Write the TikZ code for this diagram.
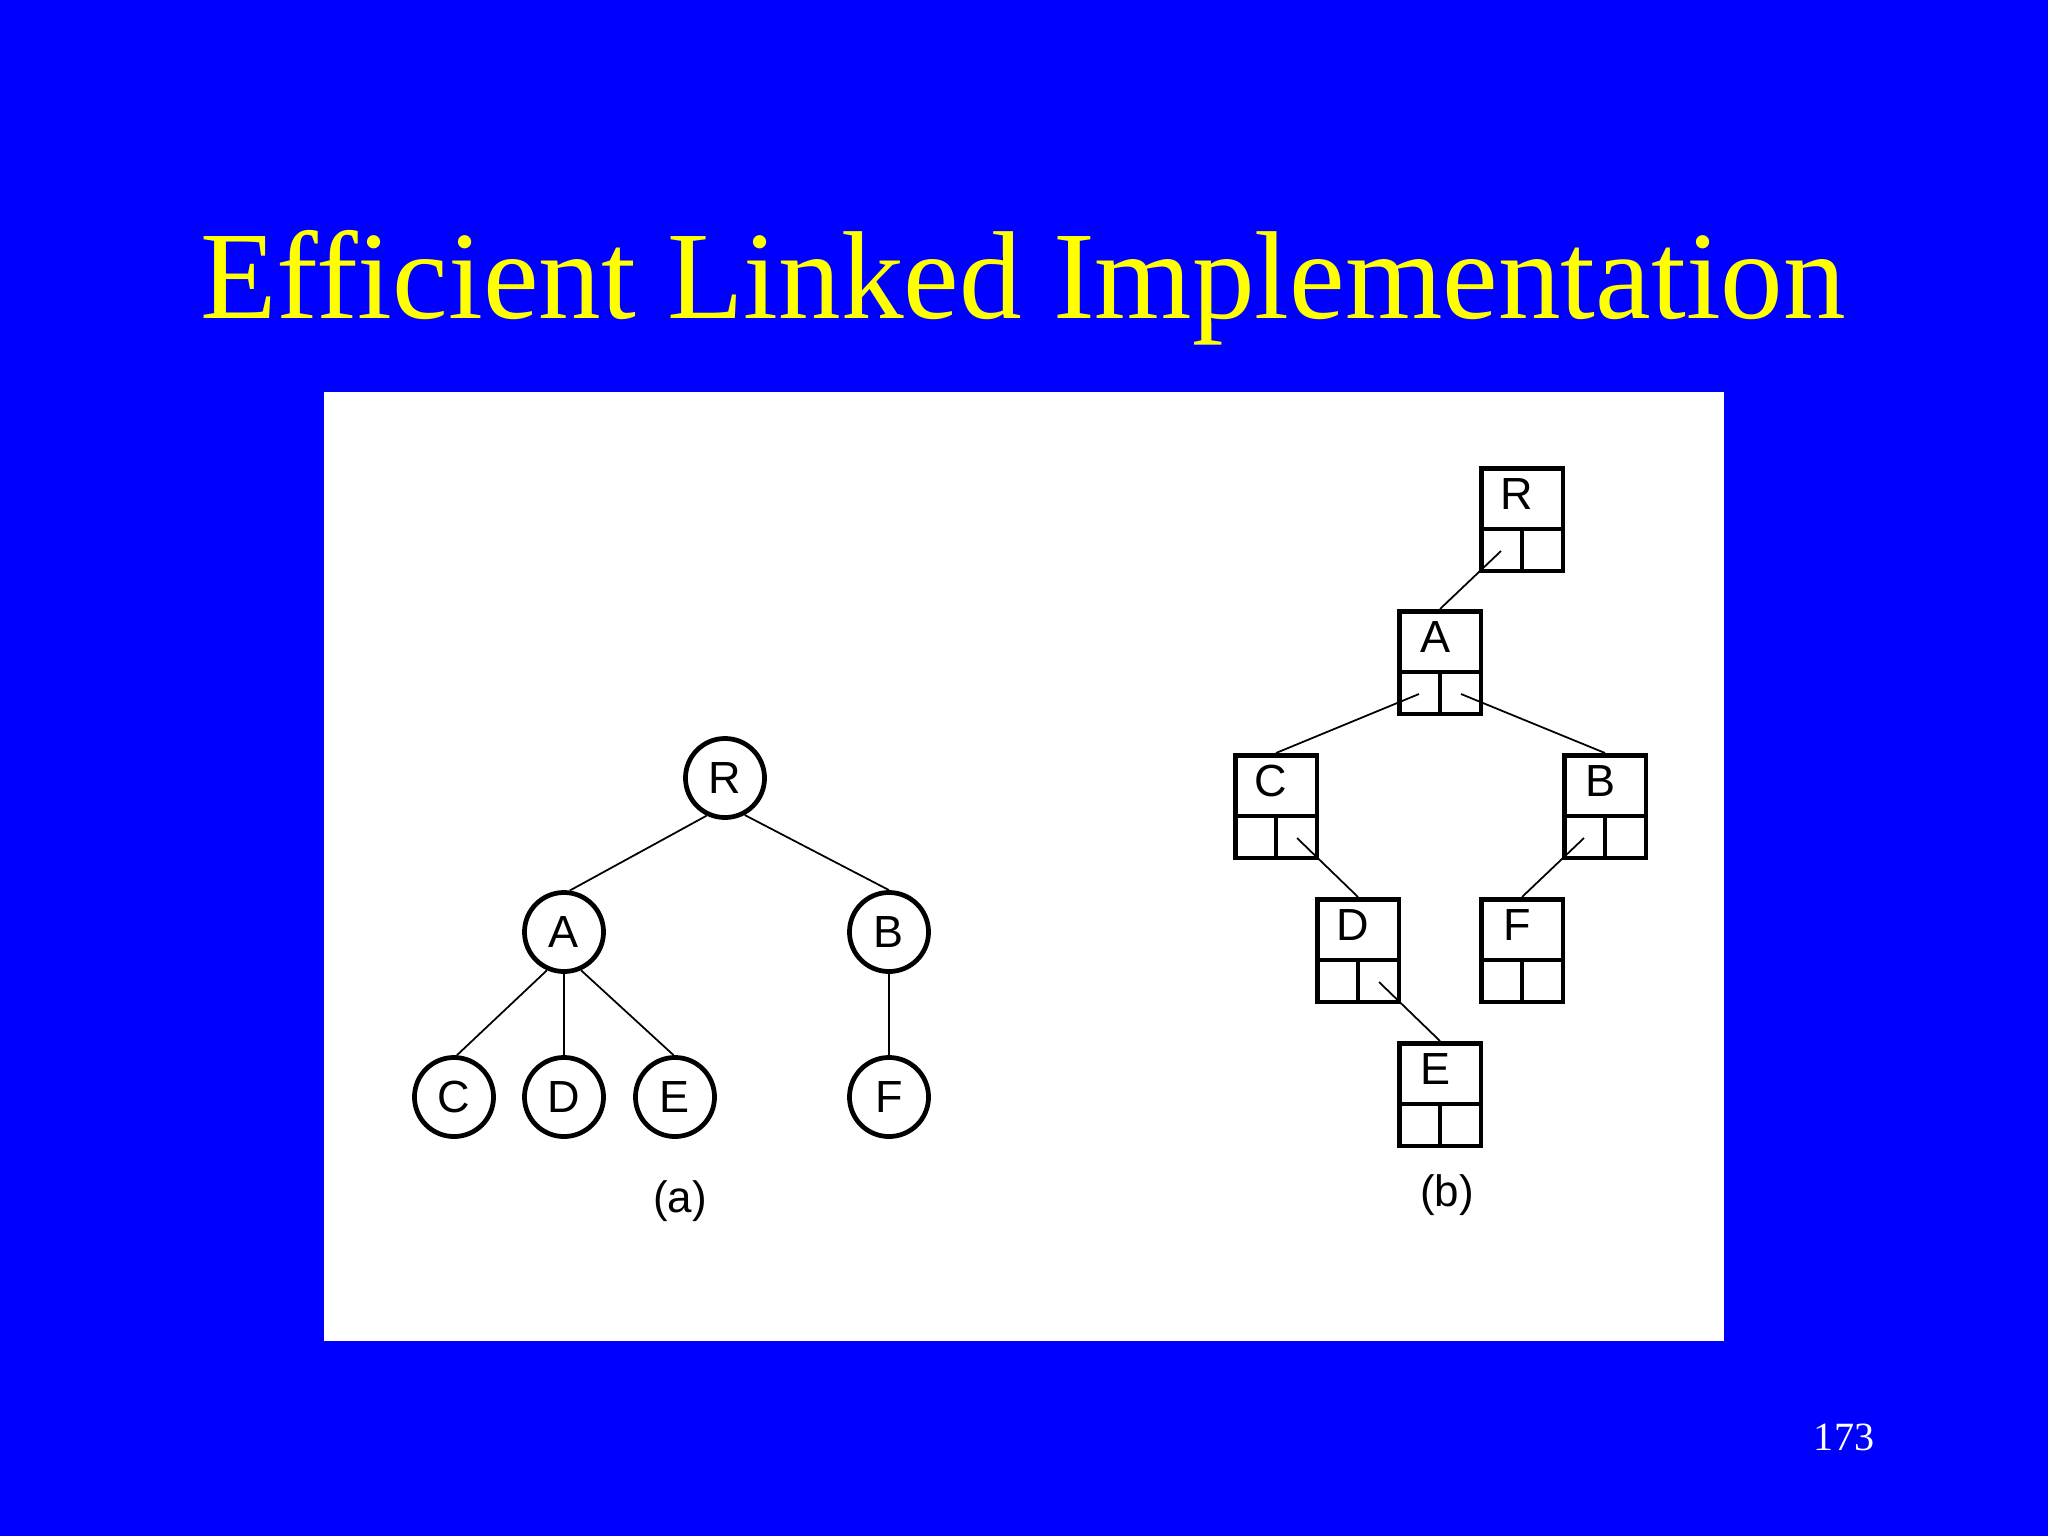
\documentclass[tikz,border=0pt]{standalone}
\usepackage{fontspec}
\setmainfont{Liberation Serif}
\newfontfamily\lsans{Liberation Sans}
\definecolor{slideblue}{RGB}{0,0,255}
\definecolor{titleyellow}{RGB}{255,255,0}
\tikzset{
  cnode/.style={circle, draw=black, line width=1.35pt, minimum size=0.79cm, inner sep=0pt, font=\lsans\fontsize{12.8}{14}\selectfont},
  bnode/.style={rectangle, draw=black, line width=1.3pt, minimum width=0.815cm, minimum height=1.025cm, inner sep=0pt, anchor=north},
  lettr/.style={inner sep=0pt, font=\lsans\fontsize{12.8}{14}\selectfont},
  caption/.style={inner sep=0pt, font=\lsans\fontsize{12.5}{14}\selectfont},
  treeedge/.style={line width=0.5pt},
  divider/.style={line width=1.2pt},
}
% name, cx, top, letter
\newcommand\linkbox[4]{%
  \node[bnode] (#1) at (#2,#3) {};
  \node[lettr] (#1-t) at (#2-5,#3+28) {#4};
  \draw[divider] (#2-40.75,#3+63) -- (#2+40.75,#3+63);
  \draw[divider] (#2,#3+63) -- (#2,#3+104.75);
  \coordinate (#1-l) at (#2-21,#3+85);
  \coordinate (#1-r) at (#2+21,#3+85);
}
\begin{document}
\begin{tikzpicture}[x=0.01cm,y=-0.01cm]
\useasboundingbox (0,0) rectangle (2048,1536);
\fill[slideblue] (0,0) rectangle (2048,1536);
\node[anchor=base, inner sep=0pt, text=titleyellow, font=\fontsize{35.6}{40}\selectfont] (title) at (1023,318) {Efficient Linked Implementation};
\node[anchor=base, inner sep=0pt, text=white, font=\fontsize{11.4}{13}\selectfont] (pagenum) at (1844,1450) {173};
\fill[white] (324,392) rectangle (1724,1341);

% (a) general tree
\node[cnode] (R) at (725,778) {R};
\node[cnode] (A) at (564,932) {A};
\node[cnode] (B) at (889,932) {B};
\node[cnode] (C) at (454,1097) {C};
\node[cnode] (D) at (564,1097) {D};
\node[cnode] (E) at (675,1097) {E};
\node[cnode] (F) at (889,1097) {F};
\draw[treeedge] (R.-116) -- (A.82);
\draw[treeedge] (R.-62) -- (B.90);
\draw[treeedge] (A.-114) -- (C.86);
\draw[treeedge] (A.-90) -- (D.90);
\draw[treeedge] (A.-66) -- (E.92);
\draw[treeedge] (B.-90) -- (F.90);
\node[caption] (capa) at (680,1201) {(a)};

% (b) left-child / right-sibling
\linkbox{bR}{1522}{466}{R}
\linkbox{bA}{1440}{609}{A}
\linkbox{bC}{1276}{753}{C}
\linkbox{bB}{1605}{753}{B}
\linkbox{bD}{1358}{897}{D}
\linkbox{bF}{1522}{897}{F}
\linkbox{bE}{1440}{1041}{E}
\draw[treeedge] (bR-l) -- (bA.north);
\draw[treeedge] (bA-l) -- (bC.north);
\draw[treeedge] (bA-r) -- (bB.north);
\draw[treeedge] (bC-r) -- (bD.north);
\draw[treeedge] (bB-l) -- (bF.north);
\draw[treeedge] (bD-r) -- (bE.north);
\node[caption] (capb) at (1447,1195) {(b)};
\end{tikzpicture}
\end{document}
